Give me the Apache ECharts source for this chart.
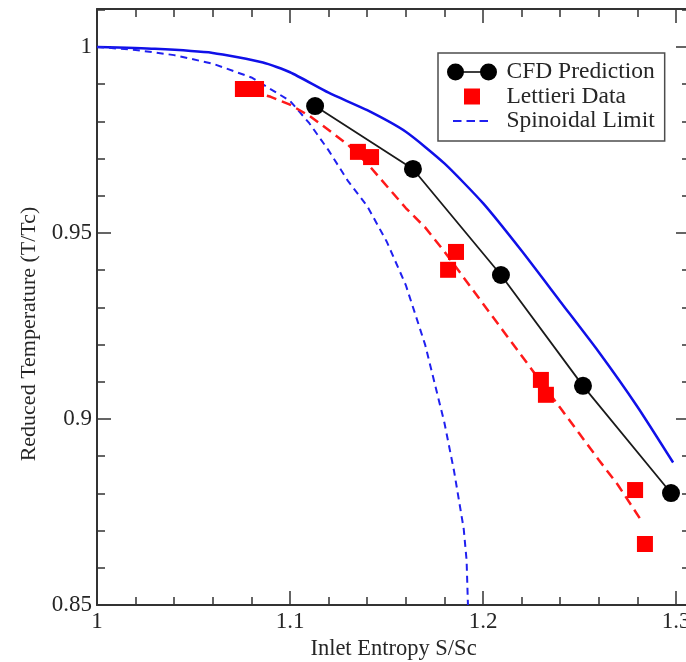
<!DOCTYPE html>
<html>
<head>
<meta charset="utf-8">
<script src="https://cdn.jsdelivr.net/npm/echarts@6/dist/echarts.min.js"></script>
<style>
html, body { margin: 0; padding: 0; background: #ffffff; }
#chart { width: 686px; height: 662px; }
</style>
</head>
<body>
<div id="chart"></div>
<script>
// Axis ticks
const xTickValues = [1, 1.1, 1.2, 1.3];
const xTickLabels = ['1', '1.1', '1.2', '1.3'];
const yTickValues = [0.85, 0.9, 0.95, 1];
const yTickLabels = ['0.85', '0.9', '0.95', '1'];

// Solid blue curve: [S/Sc, T/Tc]
const solidCurve = [
  [1.0, 1.0], [1.03, 0.9995], [1.06, 0.9984], [1.086, 0.9958], [1.1, 0.9932],
  [1.12, 0.9877], [1.14, 0.9830], [1.16, 0.9772], [1.18, 0.9687], [1.2, 0.9580],
  [1.22, 0.9452], [1.24, 0.9316], [1.26, 0.9180], [1.28, 0.9033], [1.2985, 0.8883]
];

// Spinoidal limit
const spinoidal = [
  [1.0, 1.0], [1.02, 0.9992], [1.04, 0.9978], [1.06, 0.9955], [1.08, 0.9918],
  [1.1, 0.9855], [1.11, 0.9795], [1.12, 0.9722], [1.13, 0.9640], [1.14, 0.9572],
  [1.15, 0.9478], [1.16, 0.9360], [1.17, 0.9200], [1.18, 0.8990], [1.185, 0.8860],
  [1.19, 0.8705], [1.1915, 0.8620], [1.1922, 0.8500]
];

// Lettieri measurements
const lettieriData = [
  [1.0756, 0.9887], [1.0824, 0.9887], [1.1352, 0.9718], [1.142, 0.9704],
  [1.1819, 0.9401], [1.186, 0.9449], [1.23, 0.9105], [1.2326, 0.9065],
  [1.2788, 0.8809], [1.2839, 0.8664]
];

// Dashed red trend through the Lettieri measurements
const lettieriTrend = [
  [1.08, 0.9880], [1.09, 0.9866], [1.1, 0.9845], [1.11, 0.9815], [1.12, 0.9777],
  [1.13, 0.9737], [1.14, 0.9687], [1.15, 0.9627], [1.16, 0.9567], [1.17, 0.9515],
  [1.18, 0.9450], [1.19, 0.9380], [1.2, 0.9310], [1.21, 0.9240], [1.22, 0.9170],
  [1.23, 0.9100], [1.24, 0.9030], [1.25, 0.8960], [1.26, 0.8890], [1.27, 0.8822],
  [1.2829, 0.8720]
];

// CFD prediction
const cfdPrediction = [
  [1.113, 0.9841], [1.1637, 0.9672], [1.2093, 0.9387], [1.2518, 0.9089], [1.2974, 0.8801]
];

const FONT = 'Liberation Serif';
const INK = '#262626';
const FRAME = '#333333';

function pickLabel(values, labels) {
  return function (v) {
    const i = values.findIndex(t => Math.abs(t - v) < 1e-6);
    return i >= 0 ? labels[i] : '';
  };
}

// Legend icons drawn in a 55x18 frame (corner points fix the frame size)
const cfdIcon = 'path://M0,0Z M55,18Z M0.5,9A8.5,8.5,0,1,1,17.5,9A8.5,8.5,0,1,1,0.5,9Z M33.5,9A8.5,8.5,0,1,1,50.5,9A8.5,8.5,0,1,1,33.5,9Z M17,8.2H34V9.8H17Z';
const squareIcon = 'path://M0,0Z M55,18Z M17.5,1H33.5V17H17.5Z';
const dashIcon = 'path://M0,0Z M55,18Z M6.5,8H15V10H6.5Z M20,8H28.5V10H20Z M33,8H41.5V10H33Z';

const X_MIN = 1, X_MAX = 1.30725;
const Y_MIN = 0.85, Y_MAX = 1.0102;

function xAxisCfg(position, showLabels) {
  return {
    type: 'value', position: position, min: X_MIN, max: X_MAX, interval: 0.1,
    axisLine: { show: true, onZero: false, lineStyle: { color: FRAME, width: 2 } },
    axisTick: { show: true, inside: true, length: 14, lineStyle: { color: FRAME, width: 1.5 } },
    minorTick: { show: true, splitNumber: 5, length: 8, lineStyle: { color: FRAME, width: 1.5 } },
    splitLine: { show: false },
    axisLabel: {
      show: showLabels, margin: 5, fontFamily: FONT, fontSize: 23, color: INK,
      formatter: pickLabel(xTickValues, xTickLabels)
    },
    name: showLabels ? 'Inlet Entropy S/Sc' : '',
    nameLocation: 'middle', nameGap: 25,
    nameTextStyle: { fontFamily: FONT, fontSize: 22.5, color: INK }
  };
}

function yAxisCfg(position, showLabels) {
  return {
    type: 'value', position: position, min: Y_MIN, max: Y_MAX, interval: 0.05,
    axisLine: { show: true, onZero: false, lineStyle: { color: FRAME, width: 2 } },
    axisTick: { show: true, inside: true, length: 14, lineStyle: { color: FRAME, width: 1.5 } },
    minorTick: { show: true, splitNumber: 5, length: 8, lineStyle: { color: FRAME, width: 1.5 } },
    splitLine: { show: false },
    axisLabel: {
      show: showLabels, margin: 5, fontFamily: FONT, fontSize: 23, color: INK,
      formatter: pickLabel(yTickValues, yTickLabels)
    },
    name: showLabels ? 'Reduced Temperature (T/Tc)' : '',
    nameLocation: 'middle', nameGap: 57, nameRotate: 90,
    nameTextStyle: { fontFamily: FONT, fontSize: 22, color: INK, padding: [0, 54, 0, 0] }
  };
}

const chart = echarts.init(document.getElementById('chart'), null, { renderer: 'canvas' });

chart.setOption({
  animation: false,
  backgroundColor: '#ffffff',
  grid: { left: 97, top: 9, right: -4, bottom: 57, containLabel: false, outerBoundsMode: 'none' },
  xAxis: [xAxisCfg('bottom', true), xAxisCfg('top', false)],
  yAxis: [yAxisCfg('left', true), yAxisCfg('right', false)],
  legend: {
    orient: 'vertical', left: 438, top: 53,
    padding: [7, 10, 8, 8.5],
    itemWidth: 55, itemHeight: 18, itemGap: 0.5,
    backgroundColor: '#ffffff', borderColor: '#4d4d4d', borderWidth: 1.5,
    selectedMode: false,
    textStyle: { fontFamily: FONT, fontSize: 23.5, color: INK },
    data: [
      { name: 'CFD Prediction', icon: cfdIcon, itemStyle: { color: '#000000', borderWidth: 0, opacity: 1 } },
      { name: 'Lettieri Data', icon: squareIcon, itemStyle: { color: '#ff0000', borderWidth: 0, opacity: 1 } },
      { name: 'Spinoidal Limit', icon: dashIcon, itemStyle: { color: '#2020f0', borderWidth: 0, opacity: 1 } }
    ]
  },
  series: [
    {
      name: 'Solid Curve', type: 'line', xAxisIndex: 0, yAxisIndex: 0,
      data: solidCurve, showSymbol: false, smooth: 0.2,
      lineStyle: { color: '#1010e8', width: 2.5 }, z: 2
    },
    {
      name: 'Spinoidal Limit', type: 'line', xAxisIndex: 0, yAxisIndex: 0,
      data: spinoidal, showSymbol: false,
      itemStyle: { color: '#2020f0' },
      lineStyle: { color: '#2020f0', width: 2, type: [7, 5] }, z: 2
    },
    {
      name: 'Lettieri Trend', type: 'line', xAxisIndex: 0, yAxisIndex: 0,
      data: lettieriTrend, showSymbol: false,
      lineStyle: { color: '#ff1a1a', width: 2.5, type: [10, 6] }, z: 3
    },
    {
      name: 'Lettieri Data', type: 'scatter', xAxisIndex: 0, yAxisIndex: 0,
      data: lettieriData, symbol: 'rect', symbolSize: 16,
      itemStyle: { color: '#ff0000', opacity: 1 }, z: 4
    },
    {
      name: 'CFD Prediction', type: 'line', xAxisIndex: 0, yAxisIndex: 0,
      data: cfdPrediction, symbol: 'circle', symbolSize: 18, showSymbol: true,
      itemStyle: { color: '#000000' },
      lineStyle: { color: '#1a1a1a', width: 1.8 }, z: 5
    }
  ]
});
</script>
</body>
</html>
